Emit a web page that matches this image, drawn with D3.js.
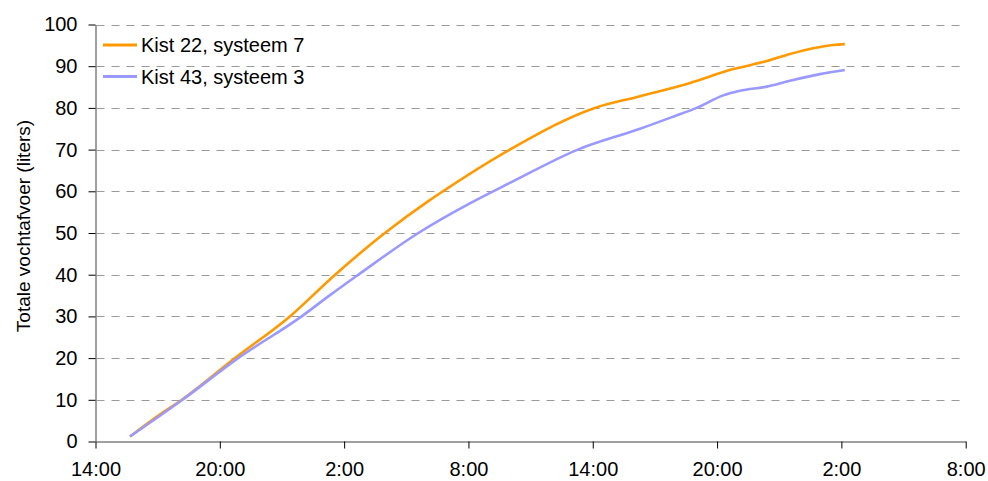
<!DOCTYPE html>
<html>
<head>
<meta charset="utf-8">
<script src="https://cdn.jsdelivr.net/npm/d3@7"></script>
<style>
  html, body { margin: 0; padding: 0; background: #fff; }
  svg { display: block; font-family: "Liberation Sans", Arial, sans-serif; }
</style>
</head>
<body>
<svg id="chart" width="988" height="481"></svg>
<script>
// ---- data ----
const seriesNames = ["Kist 22, systeem 7", "Kist 43, systeem 3"];
const seriesColors = ["#FF9900", "#9999FF"];

const kist22Times = ["2000-01-01T15:40","2000-01-01T17:07","2000-01-01T18:10","2000-01-01T20:44","2000-01-01T23:23",
  "2000-01-02T01:34","2000-01-02T03:58","2000-01-02T06:08","2000-01-02T06:46","2000-01-02T10:00",
  "2000-01-02T14:06","2000-01-02T16:17","2000-01-02T18:42","2000-01-02T20:47","2000-01-02T22:04",
  "2000-01-02T23:22","2000-01-03T00:38","2000-01-03T01:36","2000-01-03T02:10"];
const kist22Values = [1.2, 6.5, 10, 20, 30, 40, 50, 57.9, 60, 70, 80, 82.8, 86.0, 89.3, 90.8, 92.7, 94.3, 95.1, 95.3];

const kist43Times = ["2000-01-01T15:40","2000-01-01T18:12","2000-01-01T20:53","2000-01-01T23:57","2000-01-02T01:19",
  "2000-01-02T02:41","2000-01-02T05:35","2000-01-02T08:04","2000-01-02T10:00","2000-01-02T13:17",
  "2000-01-02T16:17","2000-01-02T17:53","2000-01-02T19:01","2000-01-02T20:18","2000-01-02T21:06",
  "2000-01-02T22:24","2000-01-02T23:31","2000-01-03T00:58","2000-01-03T02:10"];
const kist43Values = [1.2, 10, 20, 30, 35.1, 40, 50, 57.1, 62, 70, 75.0, 77.9, 80, 83.0, 84.1, 85.1, 86.5, 88.1, 89.1];

const xTickTimes = ["2000-01-01T14:00","2000-01-01T20:00","2000-01-02T02:00","2000-01-02T08:00",
  "2000-01-02T14:00","2000-01-02T20:00","2000-01-03T02:00","2000-01-03T08:00"];
const yTicks = [0, 10, 20, 30, 40, 50, 60, 70, 80, 90, 100];
const yTitle = "Totale vochtafvoer (liters)";

// ---- drawing ----
const parse = d3.timeParse("%Y-%m-%dT%H:%M");
const svg = d3.select("#chart");
const plotLeft = 95.5, plotRight = 965.7, plotTop = 24.5, plotBottom = 441.5;

const x = d3.scaleTime()
  .domain([parse(xTickTimes[0]), parse(xTickTimes[xTickTimes.length - 1])])
  .range([plotLeft, plotRight]);
const y = d3.scaleLinear().domain([0, 100]).range([plotBottom, plotTop]);

// gridlines
svg.append("g").selectAll("line")
  .data(yTicks.filter(v => v > 0))
  .join("line")
  .attr("x1", plotLeft + 1).attr("x2", plotRight - 2)
  .attr("y1", d => Math.round(y(d)) + 0.5).attr("y2", d => Math.round(y(d)) + 0.5)
  .attr("stroke", "#9a9a9a").attr("stroke-width", 1)
  .attr("stroke-dasharray", "8,7");

// axes
const gx = svg.append("g").attr("transform", `translate(0,${plotBottom})`)
  .call(d3.axisBottom(x).tickValues(xTickTimes.map(parse))
    .tickFormat(d3.timeFormat("%-H:%M")).tickSizeInner(7).tickSizeOuter(0).tickPadding(13));
gx.select(".domain").attr("stroke", "#808080").attr("stroke-width", 1.5);
gx.selectAll(".tick line").attr("stroke", "#000");
gx.selectAll("text").attr("font-size", 20).attr("fill", "#000")
  .attr("font-family", "'Liberation Sans', Arial, sans-serif");

const gy = svg.append("g").attr("transform", `translate(${plotLeft},0)`)
  .call(d3.axisLeft(y).tickValues(yTicks).tickSizeInner(7).tickSizeOuter(0).tickPadding(11));
gy.select(".domain").attr("stroke", "#808080").attr("stroke-width", 1.5);
gy.selectAll(".tick line").attr("stroke", "#000");
gy.selectAll("text").attr("font-size", 20).attr("fill", "#000")
  .attr("font-family", "'Liberation Sans', Arial, sans-serif");

// y title
svg.append("text")
  .attr("transform", `translate(30,226) rotate(-90)`)
  .attr("text-anchor", "middle")
  .attr("font-size", 19)
  .attr("fill", "#000")
  .text(yTitle);

// lines
const line = d3.line()
  .x(d => x(d.t)).y(d => y(d.v))
  .curve(d3.curveMonotoneX);

const series = [
  kist22Times.map((t, i) => ({ t: parse(t), v: kist22Values[i] })),
  kist43Times.map((t, i) => ({ t: parse(t), v: kist43Values[i] }))
];

[0, 1].forEach(i => {
  svg.append("path")
    .datum(series[i])
    .attr("fill", "none")
    .attr("stroke", seriesColors[i])
    .attr("stroke-width", 2.6)
    .attr("stroke-linejoin", "round")
    .attr("d", line);
});

// legend
const legend = svg.append("g");
seriesNames.forEach((name, i) => {
  const ly = 45 + i * 31.5;
  legend.append("line")
    .attr("x1", 103).attr("x2", 137)
    .attr("y1", ly).attr("y2", ly)
    .attr("stroke", seriesColors[i]).attr("stroke-width", 3);
  legend.append("text")
    .attr("x", 141).attr("y", ly + 7)
    .attr("font-size", 20).attr("fill", "#000")
    .text(name);
});
</script>
</body>
</html>
